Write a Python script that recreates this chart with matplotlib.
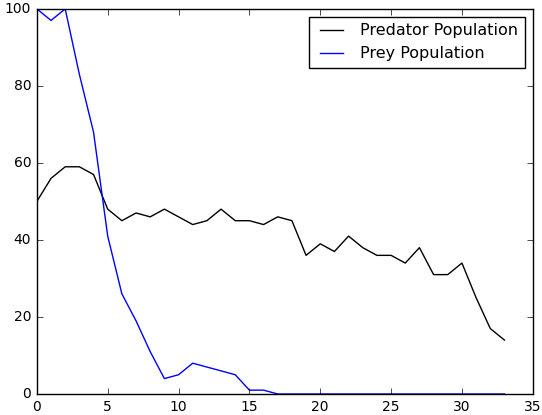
import matplotlib
matplotlib.use("Agg")
import matplotlib.pyplot as plt

plt.style.use("classic")

time = list(range(34))
predator = [50, 56, 59, 59, 57, 48, 45, 47, 46, 48, 46, 44, 45, 48, 45, 45, 44, 46, 45,
            36, 39, 37, 41, 38, 36, 36, 34, 38, 31, 31, 34, 25, 17, 14]
prey = [100, 97, 100, 83, 68, 41, 26, 19, 11, 4, 5, 8, 7, 6, 5, 1, 1, 0, 0,
        0, 0, 0, 0, 0, 0, 0, 0, 0, 0, 0, 0, 0, 0, 0]

fig = plt.figure(figsize=(5.42, 4.15), dpi=100, facecolor="white")
ax = fig.add_axes([0.068, 0.0506, 0.915, 0.928])
ax.plot(time, predator, color="black", label="Predator Population")
ax.plot(time, prey, color="blue", label="Prey Population")
ax.set_xlim(0, 35)
ax.set_ylim(0, 100)
ax.tick_params(labelsize=10)
ax.legend(loc="upper right", fontsize=11.5)
fig.savefig("out.png", dpi=100, facecolor="white")
